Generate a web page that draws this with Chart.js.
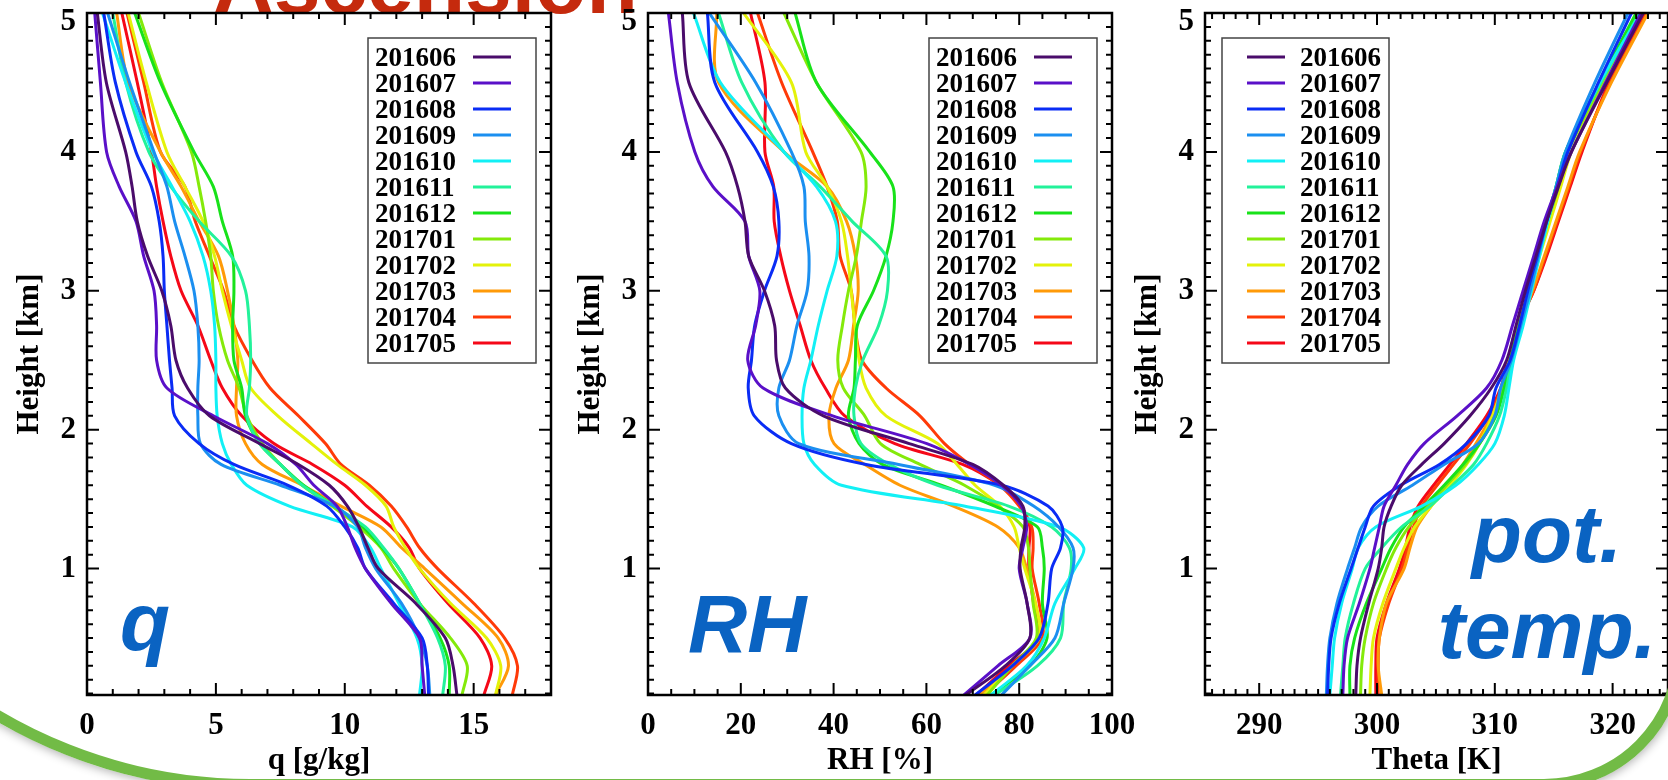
<!DOCTYPE html>
<html>
<head>
<meta charset="utf-8">
<script src="https://cdn.jsdelivr.net/npm/chart.js@4.4.1/dist/chart.umd.min.js"></script>
<style>
  html, body { margin: 0; padding: 0; background: #fff; }
  body { width: 1668px; height: 780px; position: relative; overflow: hidden; }
  canvas { position: absolute; top: 0; }
  #site {
    position: absolute; left: 213px; top: -58px;
    font: bold 84px/84px "Liberation Sans", Arial, sans-serif;
    color: #c52a0d; white-space: nowrap;
  }
  #slide {
    position: absolute; left: -251px; top: -300px;
    width: 1914px; height: 1068px;
    border: 11px solid #72bb46;
    border-radius: 0 0 141px 501px;
    box-shadow: 0 0 10px 2px rgba(0,0,0,0.3);
  }
</style>
</head>
<body>
<div id="site">Ascension</div>
<canvas id="qChart" width="561" height="780" style="left:0px"></canvas>
<canvas id="rhChart" width="600" height="780" style="left:561px"></canvas>
<canvas id="thChart" width="560" height="780" style="left:1118px"></canvas>
<div id="slide"></div>
<script>
// sounding levels (km)
const heights = [0.09, 0.3, 0.5, 0.75, 1.0, 1.15, 1.3, 1.45, 1.6, 1.75, 1.9, 2.1, 2.3, 2.5, 2.75, 3.0, 3.25, 3.5, 3.75, 4.0, 4.5, 5.0];

const months = ['201606', '201607', '201608', '201609', '201610', '201611',
                '201612', '201701', '201702', '201703', '201704', '201705'];
const colors = ['#4a0c6b', '#5a10c8', '#0a2cf5', '#1b8ff0', '#12f0f5', '#22f29a',
                '#18e21a', '#84ea0a', '#e4f20a', '#ff9a08', '#ff3a08', '#f50818'];

// specific humidity q [g/kg], one row per month
const qProfiles = [
  [14.35, 14.2, 13.9, 12.75, 11.3, 10.9, 10.55, 10.1, 9.4, 8.2, 6.7, 4.75, 3.9, 3.45, 3.25, 2.9, 2.35, 1.95, 1.75, 1.5, 0.75, 0.4],
  [13.1, 13.0, 12.9, 11.8, 10.8, 10.4, 10.1, 9.7, 8.8, 8.1, 7.0, 4.9, 3.1, 2.7, 2.7, 2.6, 2.2, 1.9, 1.25, 0.76, 0.52, 0.3],
  [13.25, 13.2, 13.0, 11.9, 10.8, 10.5, 10.0, 9.3, 7.8, 5.7, 4.35, 3.4, 3.3, 3.2, 3.1, 3.0, 2.95, 2.8, 2.5, 1.9, 1.1, 0.65],
  [13.3, 13.2, 12.9, 12.2, 11.2, 10.8, 10.5, 9.6, 7.5, 5.2, 4.4, 4.3, 4.3, 4.35, 4.3, 4.15, 3.8, 3.4, 3.1, 2.6, 1.65, 0.8],
  [12.9, 13.0, 12.8, 12.1, 11.4, 11.0, 10.3, 7.85, 6.2, 5.6, 5.25, 5.05, 5.0, 5.0, 4.95, 4.8, 4.5, 4.0, 3.3, 2.55, 1.5, 0.6],
  [13.8, 13.9, 13.6, 12.9, 12.1, 11.5, 10.8, 9.6, 8.35, 7.5, 6.7, 6.2, 6.3, 6.35, 6.3, 6.15, 5.6, 4.35, 3.25, 2.4, 1.5, 1.0],
  [14.05, 14.05, 13.7, 12.9, 12.1, 11.45, 10.7, 9.6, 8.4, 7.5, 6.7, 6.15, 6.0, 5.7, 5.65, 5.7, 5.65, 5.25, 4.9, 4.15, 2.85, 1.85],
  [14.55, 14.75, 14.1, 12.9, 11.9, 11.4, 10.55, 9.5, 8.35, 7.5, 6.8, 6.2, 5.9, 5.45, 5.1, 4.9, 4.8, 4.6, 4.35, 4.05, 2.9, 2.0],
  [15.85, 16.05, 15.5, 14.1, 12.9, 12.35, 11.9, 11.6, 10.8, 9.7, 8.7, 7.4, 6.35, 6.0, 5.6, 5.25, 4.95, 4.5, 3.8, 3.1, 2.3, 1.6],
  [15.85, 16.35, 15.95, 14.55, 13.1, 12.2, 11.4, 9.85, 8.35, 6.8, 6.15, 5.8, 5.8, 5.85, 5.7, 5.45, 5.1, 4.35, 3.65, 2.85, 1.6, 1.15],
  [16.5, 16.7, 16.2, 15.0, 13.6, 12.9, 12.4, 11.8, 10.95, 9.85, 9.25, 8.2, 7.1, 6.4, 5.7, 5.3, 4.75, 4.2, 3.8, 2.85, 2.2, 1.55],
  [15.4, 15.7, 15.25, 14.0, 12.9, 12.5, 11.8, 10.85, 10.0, 8.75, 7.25, 6.0, 5.25, 4.8, 4.3, 3.65, 3.25, 2.95, 2.7, 2.5, 1.95, 1.35]
];

// relative humidity [%]
const rhProfiles = [
  [68.5, 77, 82.3, 81.7, 80.2, 80.4, 81.2, 80.8, 76.6, 70, 56.3, 37.8, 29.6, 27.7, 27.3, 25.1, 21.7, 20.9, 19.3, 16.7, 8.8, 7.4],
  [68.1, 75.4, 82.3, 81.7, 80, 80.8, 81.6, 80.4, 76.2, 69.3, 60.1, 39.8, 24.8, 21.5, 23.2, 24.1, 21.7, 20.9, 14, 10.1, 6.3, 4.4],
  [70.5, 78.5, 84.3, 86.2, 87, 88.9, 89.3, 86.2, 76.2, 47, 30.9, 22.9, 21.6, 22.3, 23, 25.1, 27.8, 28.2, 27, 23.6, 14.4, 12.8],
  [76.2, 82.3, 87.7, 89.6, 91.6, 91.6, 88.5, 83.1, 74.7, 54, 32.5, 28.2, 28.2, 30.5, 32.1, 34.3, 34.7, 33.9, 33.6, 30.9, 23.2, 13.2],
  [73.9, 81.6, 85.4, 87.7, 92, 93.9, 88.5, 68.1, 41.7, 35.9, 33.6, 33.2, 33.6, 35.1, 36.7, 38.6, 40.7, 40.4, 36.3, 29.3, 15.6, 9.8],
  [74.7, 83.9, 88.9, 89.6, 91.2, 90.8, 87, 77.7, 62.4, 52, 45.9, 44.4, 44.7, 46.3, 49.7, 51.6, 51.3, 44, 37.1, 29.3, 20.2, 15.2],
  [73.9, 82.3, 86, 85, 85.4, 85, 83.9, 74.7, 63.2, 50.5, 45.5, 43.2, 44.4, 44.7, 45.1, 48.6, 51.3, 52.8, 52.8, 47.8, 36.3, 31.7],
  [73.1, 78.5, 83.7, 83, 82.3, 82, 80.8, 75.4, 68.2, 58.6, 50.1, 46.7, 42.1, 40.9, 41.9, 43.2, 44.9, 46, 47, 45.9, 36.3, 29.3],
  [72.4, 78.5, 84.3, 83.5, 81.2, 80, 78.9, 75.8, 70.5, 66.6, 62.4, 51.3, 47, 45.5, 44.6, 43.8, 43, 41.7, 38.6, 34, 30.9, 20.6],
  [71.6, 78.5, 84.3, 83.5, 81.6, 80, 75.4, 65.8, 54.3, 46.7, 40.1, 39, 40.5, 43.2, 44.3, 45.3, 44.7, 42.8, 38.6, 29.3, 15.2, 14.8],
  [72.4, 79.3, 85, 84.3, 82.8, 83, 82.7, 80, 75.8, 69.3, 63.9, 58.6, 51.3, 46.1, 44.6, 43.8, 41.4, 40.8, 38.6, 35.5, 28.8, 23.6],
  [70.8, 77.7, 84.3, 83.1, 82.1, 82.1, 82.3, 80.4, 75.8, 67.8, 53.2, 42.4, 38.2, 35.1, 32.8, 30.5, 28.6, 27.2, 27.1, 25.2, 25.2, 22.1]
];

// potential temperature [K]
const thetaProfiles = [
  [298.2, 298.3, 298.6, 299.3, 300.1, 300.4, 300.6, 301.2, 302.1, 303.8, 305.7, 307.9, 309.7, 311.0, 311.8, 312.6, 313.5, 314.4, 315.4, 316.5, 319.5, 322.6],
  [297.1, 297.2, 297.5, 298.5, 299.4, 299.8, 300.2, 300.6, 301.6, 302.6, 304.0, 306.8, 309.3, 310.6, 311.5, 312.4, 313.3, 314.2, 315.3, 316.5, 319.4, 322.4],
  [295.8, 295.9, 296.1, 296.8, 297.8, 298.4, 299.0, 299.7, 302.0, 305.3, 307.6, 309.5, 310.1, 311.3, 312.1, 312.8, 313.6, 314.4, 315.3, 316.2, 318.8, 321.6],
  [295.7, 295.8, 296.0, 296.6, 297.5, 298.1, 298.7, 300.1, 303.0, 305.7, 308.6, 310.0, 310.5, 311.4, 312.2, 313.0, 313.7, 314.4, 315.2, 316.0, 318.5, 321.3],
  [296.0, 296.2, 296.4, 297.0, 297.9, 298.4, 299.9, 303.8, 306.7, 308.6, 310.0, 310.8, 311.2, 311.6, 312.4, 313.1, 313.8, 314.5, 315.3, 316.1, 318.9, 322.4],
  [296.9, 297.1, 297.3, 298.0, 299.0, 300.4, 302.1, 304.5, 306.4, 308.2, 309.3, 310.4, 311.0, 311.4, 312.2, 313.0, 313.7, 314.4, 315.2, 316.0, 319.0, 322.3],
  [297.7, 297.7, 298.1, 299.1, 300.4, 301.2, 302.3, 304.0, 305.7, 307.3, 308.7, 310.1, 310.8, 311.3, 312.1, 312.9, 313.6, 314.4, 315.2, 316.0, 318.9, 322.0],
  [298.6, 298.7, 299.0, 299.7, 300.8, 301.6, 302.7, 304.3, 305.9, 307.5, 308.7, 310.0, 310.7, 311.3, 312.0, 312.9, 313.7, 314.5, 315.4, 316.2, 319.1, 322.1],
  [299.4, 299.5, 299.7, 300.5, 301.6, 302.3, 303.2, 304.6, 306.2, 307.6, 308.7, 309.8, 310.6, 311.2, 312.0, 312.9, 313.8, 314.7, 315.6, 316.5, 319.3, 322.5],
  [300.4, 300.1, 300.2, 300.8, 302.3, 302.8, 303.4, 304.6, 306.0, 307.3, 308.4, 309.7, 310.8, 311.4, 312.1, 313.2, 314.2, 315.2, 316.2, 317.2, 319.9, 323.0],
  [300.1, 300.1, 300.2, 301.0, 302.1, 302.6, 303.1, 303.8, 305.1, 306.5, 307.9, 309.5, 310.6, 311.2, 312.0, 313.3, 314.3, 315.3, 316.3, 317.3, 319.8, 322.9],
  [299.9, 299.9, 300.0, 300.8, 301.9, 302.4, 302.8, 303.5, 304.8, 306.2, 307.6, 309.3, 310.5, 311.1, 311.9, 313.3, 314.4, 315.4, 316.4, 317.4, 319.7, 322.8]
];

const heightTicks = [1, 2, 3, 4, 5];
const qTicks = [0, 5, 10, 15];
const rhTicks = [0, 20, 40, 60, 80, 100];
const thetaTicks = [290, 300, 310, 320];

const serif = '"Liberation Serif", "Times New Roman", serif';
const tagFont = 'italic bold 82px "Liberation Sans", Arial, sans-serif';
const tagColor = '#0a63c2';
// the top height label sits just inside the box instead of centred on the edge
const topLabelDrop = 0.065;

Chart.defaults.font.family = serif;
Chart.defaults.font.weight = 'bold';
Chart.defaults.color = '#000';

function stepValues(min, max, step) {
  const out = [];
  for (let i = Math.ceil(min / step - 1e-9); i * step <= max + 1e-9; i++) out.push(i * step);
  return out;
}

// keep the plot box fixed: no extra room reserved for overhanging labels
function noOverhang(s) {
  s.paddingTop = 0; s.paddingBottom = 0; s.paddingLeft = 0; s.paddingRight = 0;
}

// box with inward tick marks on all four sides
function framePlugin(p) {
  return {
    id: 'frame',
    afterDatasetsDraw(chart) {
      const {ctx, chartArea: a, scales: {x, y}} = chart;
      ctx.save();
      ctx.strokeStyle = '#000';
      ctx.lineWidth = 2;
      ctx.beginPath();
      stepValues(x.min, x.max, p.xMinor).forEach(v => {
        const px = x.getPixelForValue(v);
        const len = p.xTicks.some(m => Math.abs(m - v) < 1e-6) ? 12 : 6;
        ctx.moveTo(px, a.bottom); ctx.lineTo(px, a.bottom - len);
        ctx.moveTo(px, a.top); ctx.lineTo(px, a.top + len);
      });
      stepValues(y.min, y.max, 0.1).forEach(v => {
        const py = y.getPixelForValue(v);
        const len = heightTicks.some(m => Math.abs(m - v) < 1e-6) ? 12 : 6;
        ctx.moveTo(a.left, py); ctx.lineTo(a.left + len, py);
        ctx.moveTo(a.right, py); ctx.lineTo(a.right - len, py);
      });
      ctx.stroke();
      ctx.lineWidth = 2.5;
      ctx.strokeRect(a.left, a.top, a.right - a.left, a.bottom - a.top);
      ctx.restore();
    }
  };
}

// boxed legend: month label plus a short line sample
function legendPlugin(p) {
  return {
    id: 'boxLegend',
    afterDraw(chart) {
      const {ctx, chartArea: a} = chart;
      const L = p.legend;
      ctx.save();
      ctx.fillStyle = '#fff';
      ctx.fillRect(a.left + L.left, a.top + L.top, L.right - L.left, L.bottom - L.top);
      ctx.strokeStyle = '#444';
      ctx.lineWidth = 1.5;
      ctx.strokeRect(a.left + L.left, a.top + L.top, L.right - L.left, L.bottom - L.top);
      ctx.font = 'bold 27px ' + serif;
      ctx.textAlign = 'left';
      ctx.textBaseline = 'alphabetic';
      chart.data.datasets.forEach((ds, i) => {
        const cy = a.top + L.firstRow + i * L.rowGap;
        ctx.fillStyle = '#000';
        ctx.fillText(ds.label, a.left + L.textX, cy + 9);
        ctx.strokeStyle = ds.borderColor;
        ctx.lineWidth = 3;
        ctx.beginPath();
        ctx.moveTo(a.left + L.lineX0, cy);
        ctx.lineTo(a.left + L.lineX1, cy);
        ctx.stroke();
      });
      ctx.restore();
    }
  };
}

// big italic panel tag
function tagPlugin(p) {
  return {
    id: 'panelTag',
    afterDraw(chart) {
      const {ctx} = chart;
      ctx.save();
      ctx.font = tagFont;
      ctx.fillStyle = tagColor;
      ctx.textAlign = p.tag.align;
      ctx.textBaseline = 'alphabetic';
      p.tag.lines.forEach((t, i) => ctx.fillText(t, p.tag.x, p.tag.y + i * 96));
      ctx.restore();
    }
  };
}

function drawPanel(id, p) {
  const canvas = document.getElementById(id);
  const datasets = months.map((m, i) => ({
    label: m,
    data: heights.map((h, k) => ({x: p.profiles[i][k], y: h})),
    borderColor: colors[i],
    borderWidth: 3,
    pointRadius: 0,
    tension: 0.3,
    fill: false
  }));
  const tickFont = {family: serif, size: 31, weight: 'bold'};
  return new Chart(canvas, {
    type: 'line',
    data: {datasets},
    options: {
      indexAxis: 'y',
      responsive: false,
      animation: false,
      devicePixelRatio: 1,
      events: [],
      layout: {autoPadding: false, padding: {left: 0, top: 13, right: canvas.width - 87 - p.plotWidth, bottom: 0}},
      scales: {
        x: {
          type: 'linear', min: p.min, max: p.max,
          afterFit: s => { s.height = 85; noOverhang(s); },
          afterBuildTicks: s => { s.ticks = p.xTicks.map(v => ({value: v})); },
          grid: {display: false, drawTicks: false},
          border: {display: false},
          ticks: {padding: 12, font: tickFont, color: '#000', autoSkip: false, maxRotation: 0},
          title: {display: true, text: p.title, font: tickFont, color: '#000', padding: {top: 0, bottom: 0}}
        },
        y: {
          type: 'linear', min: 0.09, max: 5,
          afterFit: s => { s.width = 87; noOverhang(s); },
          afterBuildTicks: s => {
            s.ticks = heightTicks.map(v => ({value: v === 5 ? v - topLabelDrop : v}));
          },
          grid: {display: false, drawTicks: false},
          border: {display: false},
          ticks: {padding: 11, font: tickFont, color: '#000', autoSkip: false,
                  callback: v => String(Math.round(v))},
          title: {display: true, text: 'Height [km]', font: tickFont, color: '#000', padding: {top: 11, bottom: 0}}
        }
      },
      plugins: {legend: {display: false}, tooltip: {enabled: false}}
    },
    plugins: [framePlugin(p), legendPlugin(p), tagPlugin(p)]
  });
}

const rightLegend = {left: 281, right: 449, top: 25, bottom: 350, firstRow: 44, rowGap: 26, textX: 288, lineX0: 386, lineX1: 424};

drawPanel('qChart', {
  profiles: qProfiles, min: 0, max: 18, xTicks: qTicks, xMinor: 1, plotWidth: 464,
  title: 'q [g/kg]', legend: rightLegend,
  tag: {lines: ['q'], x: 120, y: 650, align: 'left'}
});

drawPanel('rhChart', {
  profiles: rhProfiles, min: 0, max: 100, xTicks: rhTicks, xMinor: 5, plotWidth: 464,
  title: 'RH [%]', legend: rightLegend,
  tag: {lines: ['RH'], x: 127, y: 652, align: 'left'}
});

drawPanel('thChart', {
  profiles: thetaProfiles, min: 285.4, max: 324.7, xTicks: thetaTicks, xMinor: 1, plotWidth: 463,
  title: 'Theta [K]',
  legend: {left: 17, right: 184, top: 25, bottom: 350, firstRow: 44, rowGap: 26, textX: 95, lineX0: 42, lineX1: 80},
  tag: {lines: ['pot.', 'temp.'], x: 429, y: 562, align: 'center'}
});
</script>
</body>
</html>
